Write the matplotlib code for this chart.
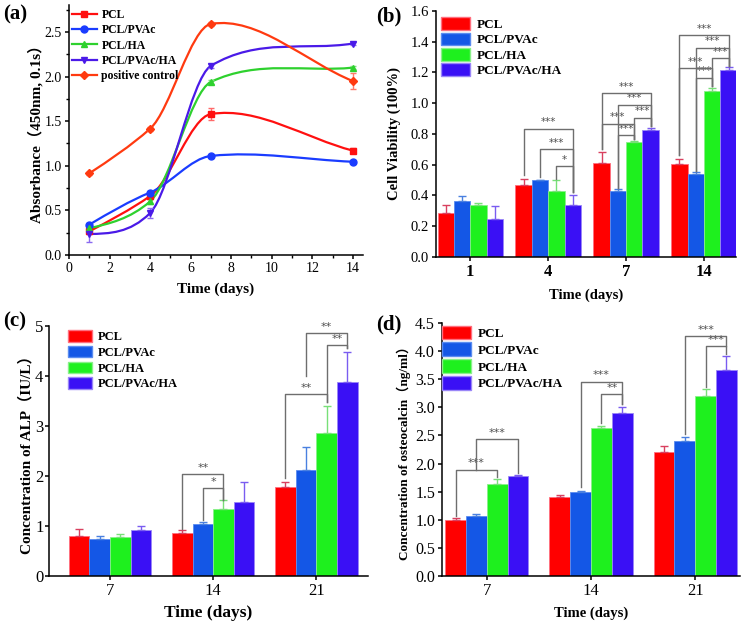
import matplotlib
matplotlib.use('Agg')
import matplotlib.pyplot as plt
import numpy as np
from matplotlib.lines import Line2D
from matplotlib.patches import PathPatch, Patch
from matplotlib.path import Path
from matplotlib.ticker import MultipleLocator, FormatStrFormatter

plt.rcParams['font.family'] = ['Liberation Serif', 'Noto Sans CJK SC']

GROUPS = ['PCL', 'PCL/PVAc', 'PCL/HA', 'PCL/PVAc/HA']

# (a) CCK-8 absorbance over time
a_days = [1, 4, 7, 14]
a_pcl = [0.265, 0.66, 1.58, 1.17]
a_pcl_err = [0.03, 0.03, 0.07, 0.025]
a_pvac = [0.34, 0.70, 1.11, 1.045]
a_pvac_err = [0.02, 0.02, 0.015, 0.015]
a_ha = [0.30, 0.60, 1.94, 2.10]
a_ha_err = [0.02, 0.03, 0.02, 0.02]
a_pvac_ha = [0.235, 0.47, 2.12, 2.37]
a_pvac_ha_err = [0.09, 0.06, 0.02, 0.02]
a_pos = [0.915, 1.415, 2.59, 1.95]
a_pos_err = [0.02, 0.02, 0.02, 0.085]

# (b) cell viability
b_days = ['1', '4', '7', '14']
b_pcl = [0.285, 0.47, 0.61, 0.605]
b_pcl_err = [0.055, 0.04, 0.07, 0.035]
b_pvac = [0.365, 0.50, 0.43, 0.54]
b_pvac_err = [0.03, 0.003, 0.012, 0.012]
b_ha = [0.335, 0.43, 0.75, 1.08]
b_ha_err = [0.015, 0.07, 0.005, 0.02]
b_pvac_ha = [0.25, 0.335, 0.825, 1.215]
b_pvac_ha_err = [0.08, 0.065, 0.012, 0.02]
# (group, bar i, bar j, top, left foot, right foot, label)
b_sig = [
    (1, 0, 3, 0.835, 0.53, 0.42, '***'),
    (1, 1, 3, 0.700, 0.52, 0.42, '***'),
    (1, 2, 3, 0.592, 0.51, 0.42, '*'),
    (2, 0, 3, 1.067, 0.70, 0.85, '***'),
    (2, 1, 3, 0.991, 0.45, 0.85, '***'),
    (2, 2, 3, 0.906, 0.77, 0.85, '***'),
    (2, 0, 2, 0.867, 0.70, 0.77, '***'),
    (2, 1, 2, 0.791, 0.45, 0.77, '***'),
    (3, 0, 3, 1.442, 0.66, 1.24, '***'),
    (3, 1, 3, 1.362, 0.56, 1.24, '***'),
    (3, 2, 3, 1.294, 1.11, 1.24, '***'),
    (3, 0, 2, 1.229, 0.66, 1.11, '***'),
    (3, 1, 2, 1.166, 0.56, 1.11, '***'),
]

# (c) ALP
c_days = ['7', '14', '21']
c_pcl = [0.79, 0.86, 1.78]
c_pcl_err = [0.14, 0.05, 0.10]
c_pvac = [0.74, 1.04, 2.12]
c_pvac_err = [0.06, 0.04, 0.46]
c_ha = [0.78, 1.33, 2.86]
c_ha_err = [0.06, 0.18, 0.54]
c_pvac_ha = [0.91, 1.47, 3.87]
c_pvac_ha_err = [0.08, 0.41, 0.60]
c_sig = [
    (1, 0, 2, 2.03, 0.93, 1.52, '**'),
    (1, 1, 2, 1.75, 1.12, 1.52, '*'),
    (2, 1, 3, 4.85, 4.00, 4.55, '**'),
    (2, 2, 3, 4.61, 3.47, 4.55, '**'),
    (2, 0, 2, 3.64, 1.95, 3.47, '**'),
]

# (d) osteocalcin
d_days = ['7', '14', '21']
d_pcl = [0.995, 1.40, 2.20]
d_pcl_err = [0.035, 0.04, 0.11]
d_pvac = [1.07, 1.50, 2.41]
d_pvac_err = [0.03, 0.02, 0.07]
d_ha = [1.645, 2.63, 3.20]
d_ha_err = [0.08, 0.04, 0.12]
d_pvac_ha = [1.776, 2.90, 3.66]
d_pvac_ha_err = [0.02, 0.11, 0.25]
d_sig = [
    (0, 0, 2, 1.89, 1.07, 1.76, '***'),
    (0, 1, 3, 2.43, 1.89, 1.84, '***'),
    (1, 1, 3, 3.46, 1.58, 3.06, '***'),
    (1, 2, 3, 3.24, 2.72, 3.06, '**'),
    (2, 1, 3, 4.27, 2.53, 4.09, '***'),
    (2, 2, 3, 4.09, 3.37, 3.95, '***'),
]

BAR_COLORS = ['#ff0000', '#1457e6', '#1ef01e', '#3a10f5']
BAR_EDGES = ['#ff6f7f', '#5a8cf0', '#8af08a', '#9a86f8']
ERR_COLORS = ['#d9405f', '#4a80e0', '#78e078', '#7a5cf0']
LINE_COLORS = ['#ff1010', '#1a3cff', '#2ed12e', '#4a1ae8', '#ff3a10']
LINE_ERR = ['#ff6a6a', '#6a86ff', '#7ae07a', '#8a6af0', '#ff7a6a']
MARKERS = ['s', 'o', '^', 'v', 'D']


def smooth_path(x, y, tension=0.72):
    # cubic Bezier through the data points (Origin-like spline connection)
    x = np.asarray(x, float)
    y = np.asarray(y, float)
    s = np.diff(y) / np.diff(x)
    m = np.empty_like(y)
    m[1:-1] = tension * (y[2:] - y[:-2]) / (x[2:] - x[:-2])
    m[0] = 1.5 * s[0] - 0.5 * m[1]
    m[-1] = s[-1]
    verts = [(x[0], y[0])]
    codes = [Path.MOVETO]
    for k in range(len(x) - 1):
        h = (x[k + 1] - x[k]) / 3
        verts += [(x[k] + h, y[k] + m[k] * h),
                  (x[k + 1] - h, y[k + 1] - m[k + 1] * h),
                  (x[k + 1], y[k + 1])]
        codes += [Path.CURVE4] * 3
    return Path(verts, codes)


def style_axes(ax):
    for side in ('top', 'right'):
        ax.spines[side].set_visible(False)
    for side in ('left', 'bottom'):
        ax.spines[side].set_linewidth(1.1)
    ax.tick_params(direction='out', length=3, width=1.1, pad=2)


def grouped_bars(ax, cats, series, errs, width):
    x = np.arange(len(cats))
    for i, (vals, err) in enumerate(zip(series, errs)):
        pos = x + (i - 1.5) * width
        ax.bar(pos, vals, width, color=BAR_COLORS[i], edgecolor=BAR_EDGES[i],
               linewidth=0.6, label=GROUPS[i], zorder=2)
        ax.errorbar(pos, vals, yerr=[np.zeros(len(vals)), err], fmt='none',
                    ecolor=ERR_COLORS[i], elinewidth=1.0, capsize=3,
                    capthick=1.0, zorder=3)
    ax.set_xticks(x)
    ax.set_xticklabels(cats)


def brackets(ax, sig, width, fs=8):
    for g, i, j, top, foot_i, foot_j, label in sig:
        xi = g + (i - 1.5) * width
        xj = g + (j - 1.5) * width
        ax.plot([xi, xi, xj, xj], [foot_i, top, top, foot_j],
                color='#6e6e6e', lw=1.0, zorder=4)
        ax.annotate(label, ((xi + xj) / 2, top), xytext=(0, 1),
                    textcoords='offset points', ha='center', va='bottom',
                    fontsize=fs, color='#505050', family='DejaVu Sans')


def bar_legend(ax, anchor, fs, hl, hh, ls):
    handles = [Patch(facecolor=BAR_COLORS[i], edgecolor=BAR_EDGES[i])
               for i in range(4)]
    ax.legend(handles, GROUPS, loc='upper left', bbox_to_anchor=anchor,
              frameon=False, borderpad=0, borderaxespad=0,
              handlelength=hl, handleheight=hh, labelspacing=ls,
              handletextpad=0.5, prop={'weight': 'bold', 'size': fs})


fig = plt.figure(figsize=(7.46, 6.26), dpi=100)

# ---------- (a)
ax = fig.add_axes([0.0925, 0.5927, 0.394, 0.399])
style_axes(ax)
a_series = [a_pcl, a_pvac, a_ha, a_pvac_ha, a_pos]
a_errs = [a_pcl_err, a_pvac_err, a_ha_err, a_pvac_ha_err, a_pos_err]
a_names = GROUPS + ['positive control']
handles = []
for k in range(5):
    ms = 4 if MARKERS[k] == 'D' else 5
    ax.add_patch(PathPatch(smooth_path(a_days, a_series[k]), fill=False,
                           edgecolor=LINE_COLORS[k], lw=1.6, zorder=2))
    ax.errorbar(a_days, a_series[k], yerr=a_errs[k], fmt=MARKERS[k],
                color=LINE_COLORS[k], ecolor=LINE_ERR[k], elinewidth=1.0,
                capsize=2.5, markersize=ms, zorder=3)
    handles.append(Line2D([], [], color=LINE_COLORS[k], marker=MARKERS[k],
                          lw=1.6, markersize=ms))
ax.legend(handles, a_names, loc='upper left', bbox_to_anchor=(0.01, 0.985),
          frameon=False, borderpad=0, borderaxespad=0, handlelength=2.1,
          handletextpad=0.4, labelspacing=0.28,
          prop={'weight': 'bold', 'size': 8.5})
ax.set_xlim(0, 14.5)
ax.set_ylim(0, 2.8)
ax.xaxis.set_major_locator(MultipleLocator(2))
ax.xaxis.set_minor_locator(MultipleLocator(1))
ax.yaxis.set_major_locator(MultipleLocator(0.5))
ax.yaxis.set_minor_locator(MultipleLocator(0.25))
ax.tick_params(which='minor', direction='out', length=2, width=1.0)
ax.yaxis.set_major_formatter(FormatStrFormatter('%.1f'))
ax.tick_params(labelsize=10)
ax.set_xlabel('Time (days)', fontsize=11, fontweight='bold')
ax.set_ylabel('Absorbance（450nm, 0.1s）', fontsize=11, fontweight='bold')
ax.xaxis.set_label_coords(0.5, -0.11)
ax.yaxis.set_label_coords(-0.088, 0.5)

# ---------- (b)
ax = fig.add_axes([0.5845, 0.5895, 0.402, 0.393])
style_axes(ax)
wb = 0.21
grouped_bars(ax, b_days, [b_pcl, b_pvac, b_ha, b_pvac_ha],
             [b_pcl_err, b_pvac_err, b_ha_err, b_pvac_ha_err], wb)
brackets(ax, b_sig, wb, fs=7.5)
ax.set_xlim(-0.44, 3.41)
ax.set_ylim(0, 1.6)
ax.yaxis.set_major_locator(MultipleLocator(0.2))
ax.yaxis.set_major_formatter(FormatStrFormatter('%.1f'))
ax.tick_params(axis='y', labelsize=10.5)
ax.tick_params(axis='x', labelsize=12)
for t in ax.get_xticklabels():
    t.set_fontweight('bold')
ax.set_xlabel('Time (days)', fontsize=10.5, fontweight='bold')
ax.set_ylabel('Cell Viability (100%)', fontsize=10.5, fontweight='bold')
ax.xaxis.set_label_coords(0.5, -0.13)
ax.yaxis.set_label_coords(-0.117, 0.5)
bar_legend(ax, (0.017, 0.975), 9.5, 2.2, 1.1, 0.12)

# ---------- (c)
ax = fig.add_axes([0.0657, 0.0799, 0.4276, 0.3994])
style_axes(ax)
wc = 0.2
grouped_bars(ax, c_days, [c_pcl, c_pvac, c_ha, c_pvac_ha],
             [c_pcl_err, c_pvac_err, c_ha_err, c_pvac_ha_err], wc)
brackets(ax, c_sig, wc)
ax.set_xlim(-0.59, 2.5)
ax.set_ylim(0, 5)
ax.yaxis.set_major_locator(MultipleLocator(1))
ax.tick_params(labelsize=12)
ax.tick_params(axis='y', pad=1.0)
ax.set_xlabel('Time (days)', fontsize=12.5, fontweight='bold')
ax.set_ylabel('Concentration of ALP（IU/L）', fontsize=11, fontweight='bold')
ax.xaxis.set_label_coords(0.5, -0.118)
ax.yaxis.set_label_coords(-0.048, 0.5)
bar_legend(ax, (0.06, 0.982), 9, 1.9, 1.0, 0.22)

# ---------- (d)
ax = fig.add_axes([0.5925, 0.0799, 0.3995, 0.404])
style_axes(ax)
wd = 0.2
grouped_bars(ax, d_days, [d_pcl, d_pvac, d_ha, d_pvac_ha],
             [d_pcl_err, d_pvac_err, d_ha_err, d_pvac_ha_err], wd)
brackets(ax, d_sig, wd)
ax.set_xlim(-0.43, 2.43)
ax.set_ylim(0, 4.5)
ax.yaxis.set_major_locator(MultipleLocator(0.5))
ax.yaxis.set_major_formatter(FormatStrFormatter('%.1f'))
ax.tick_params(axis='y', labelsize=11.5)
ax.tick_params(axis='x', labelsize=12)
ax.set_xlabel('Time (days)', fontsize=10.5, fontweight='bold')
ax.set_ylabel('Concentration of osteocalcin（ng/ml）', fontsize=9.5,
              fontweight='bold')
ax.xaxis.set_label_coords(0.5, -0.12)
ax.yaxis.set_label_coords(-0.104, 0.5)
bar_legend(ax, (0.0, 0.99), 9.5, 2.2, 1.2, 0.2)

# panel letters
for x, y, s in [(0.004, 0.977, '(a)'), (0.504, 0.974, '(b)'),
                (0.004, 0.487, '(c)'), (0.504, 0.481, '(d)')]:
    fig.text(x, y, s, fontsize=15, fontweight='bold', va='center', ha='left')

fig.savefig('out.png', dpi=100)
